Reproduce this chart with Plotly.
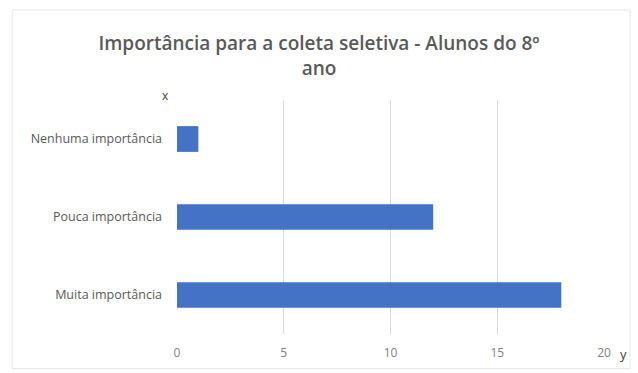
import plotly.graph_objects as go

categories = ["Muita importância", "Pouca importância", "Nenhuma importância"]
values = [18, 12, 1]
x_ticks = [0, 5, 10, 15, 20]
title_text = "Importância para a coleta seletiva - Alunos do 8º<br>ano"

fig = go.Figure()
fig.add_trace(go.Bar(
    x=values, y=categories, orientation="h",
    marker=dict(color="#4472C4", line=dict(width=0)),
    width=0.33,
))

fig.update_layout(
    width=638, height=373,
    margin=dict(l=177, r=34, t=100, b=36),
    paper_bgcolor="white", plot_bgcolor="white",
    showlegend=False,
    title=dict(text=title_text, x=0.5, xanchor="center", y=0.866, yanchor="middle",
               font=dict(family="Open Sans", size=19, color="#595959", weight=600)),
    font=dict(family="Open Sans", color="#595959"),
    xaxis=dict(range=[0, 20], tickvals=x_ticks, showgrid=True, gridcolor="#d9d9d9",
               gridwidth=1, zeroline=False, showline=False,
               tickfont=dict(size=12, color="#808080"), ticks="", ticklabelstandoff=10),
    yaxis=dict(categoryorder="array", categoryarray=categories, showgrid=False,
               zeroline=False, showline=False, ticks="",
               tickfont=dict(size=12.5, color="#595959"), ticklabelstandoff=14),
    shapes=[dict(type="rect", xref="paper", yref="paper", x0=-0.386, x1=1.061, y0=-0.148, y1=1.385,
                 line=dict(color="#e6e6e6", width=1))],
    annotations=[
        dict(text="x", xref="paper", yref="paper", x=-0.026, y=1.021, showarrow=False,
             font=dict(size=12, color="#404040"), xanchor="center", yanchor="middle"),
        dict(text="y", xref="paper", yref="paper", x=1.045, y=-0.085, showarrow=False,
             font=dict(size=13, color="#404040"), xanchor="center", yanchor="middle"),
    ],
)

fig.write_html("out.html")
